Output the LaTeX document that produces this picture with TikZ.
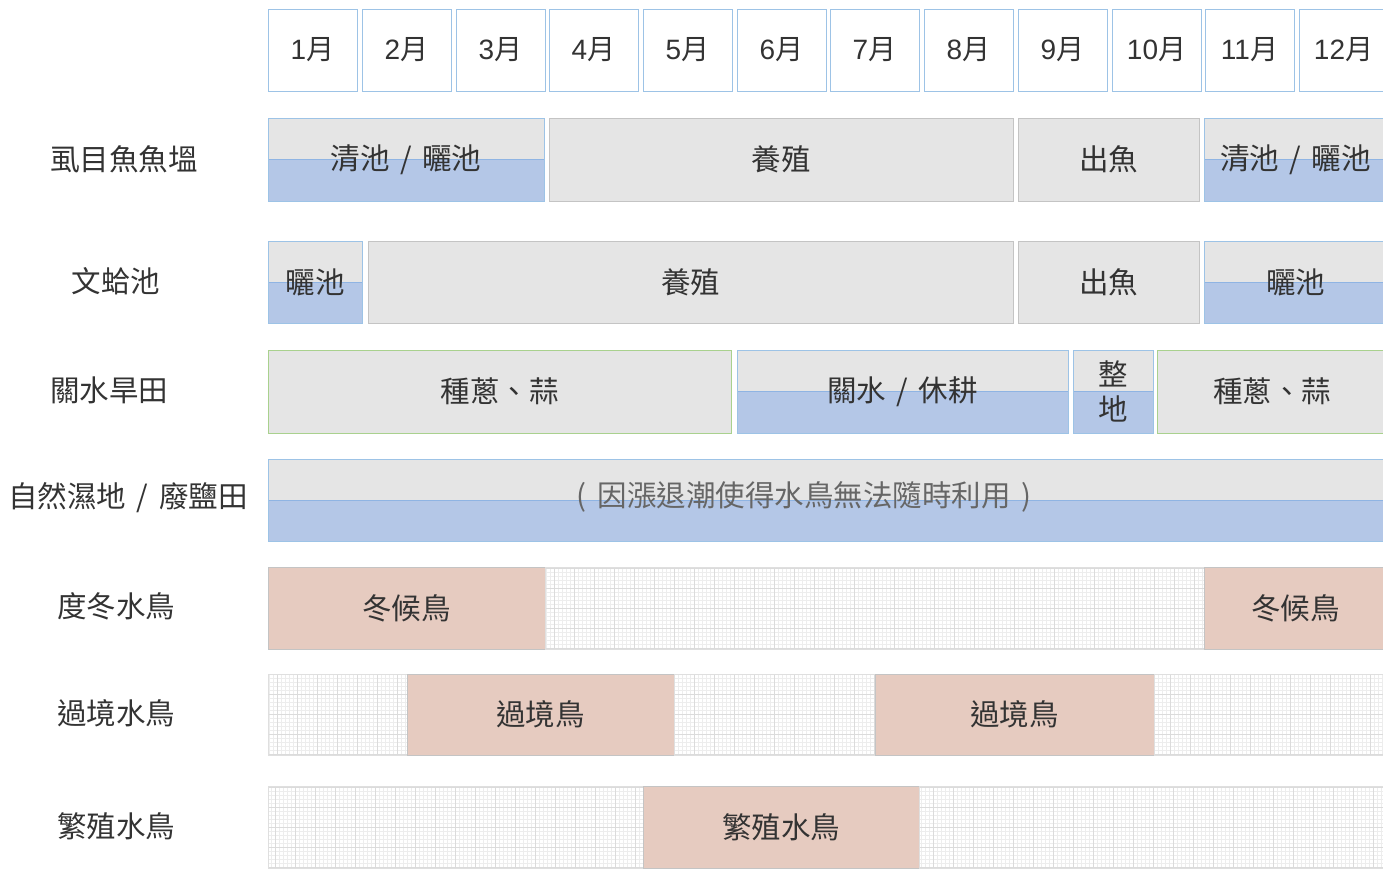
\documentclass[tikz,border=0pt]{standalone}
\usepackage{fontspec}
\setmainfont{Noto Sans CJK TC}
\newfontfamily\latinf{Liberation Sans}
\definecolor{hdrblue}{HTML}{9DC3E6}
\definecolor{cellgray}{HTML}{E5E5E5}
\definecolor{cellline}{HTML}{C4C4C4}
\definecolor{waterfill}{HTML}{B4C7E7}
\definecolor{waterline}{HTML}{8FB4E3}
\definecolor{cropline}{HTML}{A9D18E}
\definecolor{birdfill}{HTML}{E6CBC0}
\definecolor{txt}{HTML}{333333}
\definecolor{txtlight}{HTML}{666666}
\newcommand\wsp{\hspace{0.36em}}
\newcommand\mycell[7]{\node[#6, minimum width={(#4-#2)*1pt}, minimum height={(#5-#3)*1pt}] (#1) at ({(#2+#4)/2},{(#3+#5)/2}) {#7};}
\tikzset{
  base/.style={inner sep=0pt, outer sep=0pt, line width=1pt, text=txt, align=center, font=\fontsize{29.5}{35}\selectfont},
  hdr/.style={base, draw=hdrblue, fill=white, font=\fontsize{28}{32}\selectfont},
  graycell/.style={base, draw=cellline, fill=cellgray},
  watercell/.style={base, draw=hdrblue, fill=cellgray,
    path picture={\fill[waterfill] (path picture bounding box.south west) rectangle (path picture bounding box.east);
      \draw[waterline, line width=1pt] (path picture bounding box.west) -- (path picture bounding box.east);}},
  cropcell/.style={base, draw=cropline, fill=cellgray},
  birdcell/.style={base, draw=cellline, fill=birdfill},
  gridcell/.style={base, draw=gray!25, fill=white,
    path picture={\draw[gray!14, line width=0.6pt, step=4pt] (path picture bounding box.south west) grid (path picture bounding box.north east);
      \draw[gray!28, line width=0.6pt, step=20pt] (path picture bounding box.south west) grid (path picture bounding box.north east);}},
  rowlabel/.style={inner sep=0pt, text=txt, font=\fontsize{29.5}{34}\selectfont},
}
\begin{document}
\begin{tikzpicture}[x=1pt, y=-1pt]
\useasboundingbox (0,0) rectangle (1383,868);
\clip (0,0) rectangle (1383,868);
% header
\mycell{m1}{268}{9}{357}{91}{hdr}{{\latinf 1}月}
\mycell{m2}{362}{9}{451}{91}{hdr}{{\latinf 2}月}
\mycell{m3}{456}{9}{545}{91}{hdr}{{\latinf 3}月}
\mycell{m4}{549}{9}{638}{91}{hdr}{{\latinf 4}月}
\mycell{m5}{643}{9}{732}{91}{hdr}{{\latinf 5}月}
\mycell{m6}{737}{9}{826}{91}{hdr}{{\latinf 6}月}
\mycell{m7}{830}{9}{919}{91}{hdr}{{\latinf 7}月}
\mycell{m8}{924}{9}{1013}{91}{hdr}{{\latinf 8}月}
\mycell{m9}{1018}{9}{1107}{91}{hdr}{{\latinf 9}月}
\mycell{m10}{1112}{9}{1201}{91}{hdr}{{\latinf 10}月}
\mycell{m11}{1205}{9}{1294}{91}{hdr}{{\latinf 11}月}
\mycell{m12}{1299}{9}{1388}{91}{hdr}{{\latinf 12}月}
% row labels
\node[rowlabel] (l1) at (124,159) {虱目魚魚塭};
\node[rowlabel] (l2) at (116,281) {文蛤池};
\node[rowlabel] (l3) at (109,390) {關水旱田};
\node[rowlabel] (l4) at (128,498) {自然濕地\wsp{}/\wsp{}廢鹽田};
\node[rowlabel] (l5) at (116,606) {度冬水鳥};
\node[rowlabel] (l6) at (116,713) {過境水鳥};
\node[rowlabel] (l7) at (116,826) {繁殖水鳥};
% row 1
\mycell{a1}{268}{118}{544}{201}{watercell}{清池\wsp{}/\wsp{}曬池}
\mycell{a2}{549}{118}{1013}{201}{graycell}{養殖}
\mycell{a3}{1018}{118}{1199}{201}{graycell}{出魚}
\mycell{a4}{1204}{118}{1387}{201}{watercell}{清池\wsp{}/\wsp{}曬池}
% row 2
\mycell{b1}{268}{241}{362}{323}{watercell}{曬池}
\mycell{b2}{368}{241}{1013}{323}{graycell}{養殖}
\mycell{b3}{1018}{241}{1199}{323}{graycell}{出魚}
\mycell{b4}{1204}{241}{1387}{323}{watercell}{曬池}
% row 3
\mycell{c1}{268}{350}{731}{433}{cropcell}{種蔥、蒜}
\mycell{c2}{737}{350}{1068}{433}{watercell}{關水\wsp{}/\wsp{}休耕}
\mycell{c3}{1073}{350}{1153}{433}{watercell}{整\\地}
\mycell{c4}{1157}{350}{1387}{433}{cropcell}{種蔥、蒜}
% row 4
\mycell{d1}{268}{459}{1387}{541}{watercell}{}
\node[rowlabel, text=txtlight] (d1t) at (804,497) {(\wsp{}因漲退潮使得水鳥無法隨時利用\wsp{})};
% row 5
\mycell{e1}{268}{567}{545}{649}{birdcell}{冬候鳥}
\mycell{e2}{545}{567}{1204}{649}{gridcell}{}
\mycell{e3}{1204}{567}{1387}{649}{birdcell}{冬候鳥}
% row 6
\mycell{f1}{268}{674}{407}{755}{gridcell}{}
\mycell{f2}{407}{674}{674}{755}{birdcell}{過境鳥}
\mycell{f3}{674}{674}{875}{755}{gridcell}{}
\mycell{f4}{875}{674}{1154}{755}{birdcell}{過境鳥}
\mycell{f5}{1154}{674}{1387}{755}{gridcell}{}
% row 7
\mycell{g1}{268}{786}{643}{868}{gridcell}{}
\mycell{g2}{643}{786}{919}{868}{birdcell}{繁殖水鳥}
\mycell{g3}{919}{786}{1387}{868}{gridcell}{}
\end{tikzpicture}
\end{document}
